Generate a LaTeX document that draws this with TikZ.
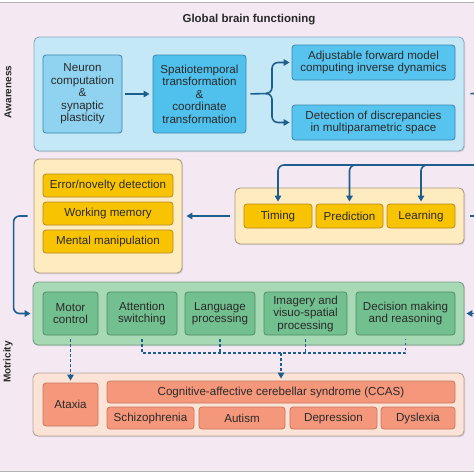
\documentclass[tikz,border=0pt]{standalone}
\usepackage{fontspec}
\setmainfont{Liberation Sans}
\usetikzlibrary{arrows.meta,calc,shadows}
\definecolor{bgpink}{HTML}{F4E9F3}
\definecolor{txtgray}{HTML}{2A2A2A}
\definecolor{flowblue}{HTML}{1D5E8E}
\definecolor{awfill}{HTML}{C5E8F7}
\definecolor{awline}{HTML}{8AA9BF}
\definecolor{neufill}{HTML}{8FD3F1}
\definecolor{spatfill}{HTML}{4FC1EC}
\definecolor{bluefill}{HTML}{56C4EE}
\definecolor{blueline}{HTML}{3A86AE}
\definecolor{yelpanel}{HTML}{FEEBBF}
\definecolor{yelline}{HTML}{A89A80}
\definecolor{yelfill}{HTML}{F8C300}
\definecolor{yelcell}{HTML}{B58A2A}
\definecolor{grnpanel}{HTML}{A7D9B5}
\definecolor{grnline}{HTML}{6E9C80}
\definecolor{grnfill}{HTML}{72BF8F}
\definecolor{grncell}{HTML}{4E8C66}
\definecolor{pnkpanel}{HTML}{FBE3D7}
\definecolor{pnkline}{HTML}{B8A09A}
\definecolor{pnkfill}{HTML}{F4977A}
\definecolor{pnkcell}{HTML}{C7765E}
\tikzset{
  panel/.style n args={2}{fill=#1, draw=#2, rounded corners=5pt, line width=0.9pt,
    drop shadow={opacity=0.25, shadow xshift=1pt, shadow yshift=-1.2pt}},
  cell/.style n args={2}{fill=#1, draw=#2, rounded corners=3pt, line width=0.8pt,
    align=center, inner sep=1pt, text=txtgray},
  flow/.style={draw=flowblue, line width=1.6pt, -{Triangle[length=6pt,width=6.5pt]}},
  link/.style={draw=flowblue, line width=1.6pt},
  dots/.style={draw=flowblue, line width=1.6pt, dash pattern=on 2.5pt off 2.5pt},
  sidelbl/.style={font=\bfseries\fontsize{10}{12}\selectfont, rotate=90},
}
\begin{document}
\begin{tikzpicture}[x=1pt,y=-1pt, font=\fontsize{11.6}{12.5}\selectfont, text=txtgray]
\useasboundingbox (0,0) rectangle (474,474);
\fill[white] (0,0) rectangle (474,474);
\fill[bgpink] (0,3) rectangle (474,471);
\draw[gray!60, line width=0.8pt] (0,2.5) -- (474,2.5) (0,471) -- (474,471);

\node[font=\bfseries\fontsize{11.5}{13}\selectfont] (title) at (249,20) {Global brain functioning};
\node[sidelbl] (aware) at (8,92) {Awareness};
\node[sidelbl] (motric) at (8,362) {Motricity};

\node[panel={awfill}{awline}, minimum width=430pt, minimum height=114pt] (aw) at (249,94) {};
\node[cell={neufill}{blueline}, minimum width=79pt, minimum height=78pt] (neuron) at (82.5,94) {Neuron\\computation\\\&\\synaptic\\plasticity};
\node[cell={spatfill}{blueline}, minimum width=93pt, minimum height=78pt] (spat) at (199.5,94) {Spatiotemporal\\transformation\\\&\\coordinate\\transformation};
\node[cell={bluefill}{blueline}, minimum width=163pt, minimum height=35pt] (adj) at (373.5,62.5) {Adjustable forward model\\computing inverse dynamics};
\node[cell={bluefill}{blueline}, minimum width=163pt, minimum height=35pt] (det) at (373.5,122.5) {Detection of discrepancies\\in multiparametric space};

\node[panel={yelpanel}{yelline}, minimum width=148pt, minimum height=114pt] (cog) at (108,216) {};
\node[cell={yelfill}{yelcell}, minimum width=130pt, minimum height=23pt] (err) at (108,185.5) {Error/novelty detection};
\node[cell={yelfill}{yelcell}, minimum width=130pt, minimum height=23pt] (wm) at (108,213.5) {Working memory};
\node[cell={yelfill}{yelcell}, minimum width=130pt, minimum height=23pt] (mm) at (108,241.5) {Mental manipulation};

\node[panel={yelpanel}{yelline}, minimum width=229pt, minimum height=56pt] (tpl) at (349.5,216) {};
\node[cell={yelfill}{yelcell}, minimum width=68pt, minimum height=24pt] (timing) at (278,216) {Timing};
\node[cell={yelfill}{yelcell}, minimum width=67pt, minimum height=24pt] (pred) at (349.5,216) {Prediction};
\node[cell={yelfill}{yelcell}, minimum width=68pt, minimum height=24pt] (learn) at (421,216) {Learning};

\node[panel={grnpanel}{grnline}, minimum width=431pt, minimum height=63pt] (grn) at (248.5,313.5) {};
\node[cell={grnfill}{grncell}, minimum width=55pt, minimum height=43pt] (motor) at (70.5,313.5) {Motor\\control};
\node[cell={grnfill}{grncell}, minimum width=70pt, minimum height=43pt] (att) at (142,313.5) {Attention\\switching};
\node[cell={grnfill}{grncell}, minimum width=70pt, minimum height=43pt] (lang) at (220,313.5) {Language\\processing};
\node[cell={grnfill}{grncell}, minimum width=83pt, minimum height=43pt] (img) at (305.5,313.5) {Imagery and\\visuo-spatial\\processing};
\node[cell={grnfill}{grncell}, minimum width=99pt, minimum height=43pt] (dec) at (405.5,313.5) {Decision making\\and reasoning};

\node[panel={pnkpanel}{pnkline}, minimum width=431pt, minimum height=63pt] (pnk) at (248.5,404.5) {};
\node[cell={pnkfill}{pnkcell}, minimum width=55pt, minimum height=43pt] (ataxia) at (70.5,404.5) {Ataxia};
\node[cell={pnkfill}{pnkcell}, minimum width=348pt, minimum height=22pt] (ccas) at (281,392) {Cognitive-affective cerebellar syndrome (CCAS)};
\node[cell={pnkfill}{pnkcell}, minimum width=87pt, minimum height=22pt] (schiz) at (150.5,418) {Schizophrenia};
\node[cell={pnkfill}{pnkcell}, minimum width=86pt, minimum height=22pt] (autism) at (242,418) {Autism};
\node[cell={pnkfill}{pnkcell}, minimum width=87pt, minimum height=22pt] (depr) at (333.5,418) {Depression};
\node[cell={pnkfill}{pnkcell}, minimum width=74pt, minimum height=22pt] (dysl) at (418,418) {Dyslexia};

\coordinate (brc) at (272,93.5);
\coordinate (outA) at (474,93.5);
\coordinate (feed) at (474,165);
\coordinate (outB) at (474,216);
\coordinate (inC) at (474,313.5);
\coordinate (join) at (281,353);

\draw[flow, shorten <=3pt, shorten >=3pt] (neuron) -- (spat);
\draw[link, shorten <=4pt] (spat.east) -- ($(brc)+(-4,0)$);
\draw[flow, rounded corners=6pt, shorten >=2pt] ($(brc)+(-6,0)$) -- (brc) |- (adj.west);
\draw[flow, rounded corners=6pt, shorten >=2pt] ($(brc)+(-6,0)$) -- (brc) |- (det.west);
\draw[link, shorten <=6pt] (aw.east) -- (outA);

\draw[flow, rounded corners=6pt, shorten >=2pt] (feed) -| (timing.north);
\draw[flow, rounded corners=6pt, shorten >=2pt] (feed) -| (pred.north);
\draw[flow, rounded corners=6pt, shorten >=2pt] (feed) -| (learn.north);
\draw[link, shorten <=6pt] (tpl.east) -- (outB);
\draw[flow, shorten <=5pt, shorten >=4pt] (tpl.west) -- (cog.east);
\draw[flow, rounded corners=6pt, shorten <=6pt, shorten >=2pt] (cog.west) -- ++(-20,0) |- (grn.west);
\draw[flow, shorten >=2pt] (inC) -- (grn.east);

\draw[dots, -{Triangle[length=6pt,width=6.5pt]}, shorten <=4pt, shorten >=2pt] (motor.south) -- (ataxia.north);
\draw[dots, shorten <=4pt, shorten >=4pt] (att.south) |- (dec.south |- join) -- (dec.south);
\draw[dots, shorten <=4pt] (lang.south) -- (lang.south |- join);
\draw[dots, shorten <=4pt] (img.south) -- (img.south |- join);
\draw[dots, -{Triangle[length=6pt,width=6.5pt]}, shorten >=2pt] (join) -- (ccas.north);
\end{tikzpicture}
\end{document}
